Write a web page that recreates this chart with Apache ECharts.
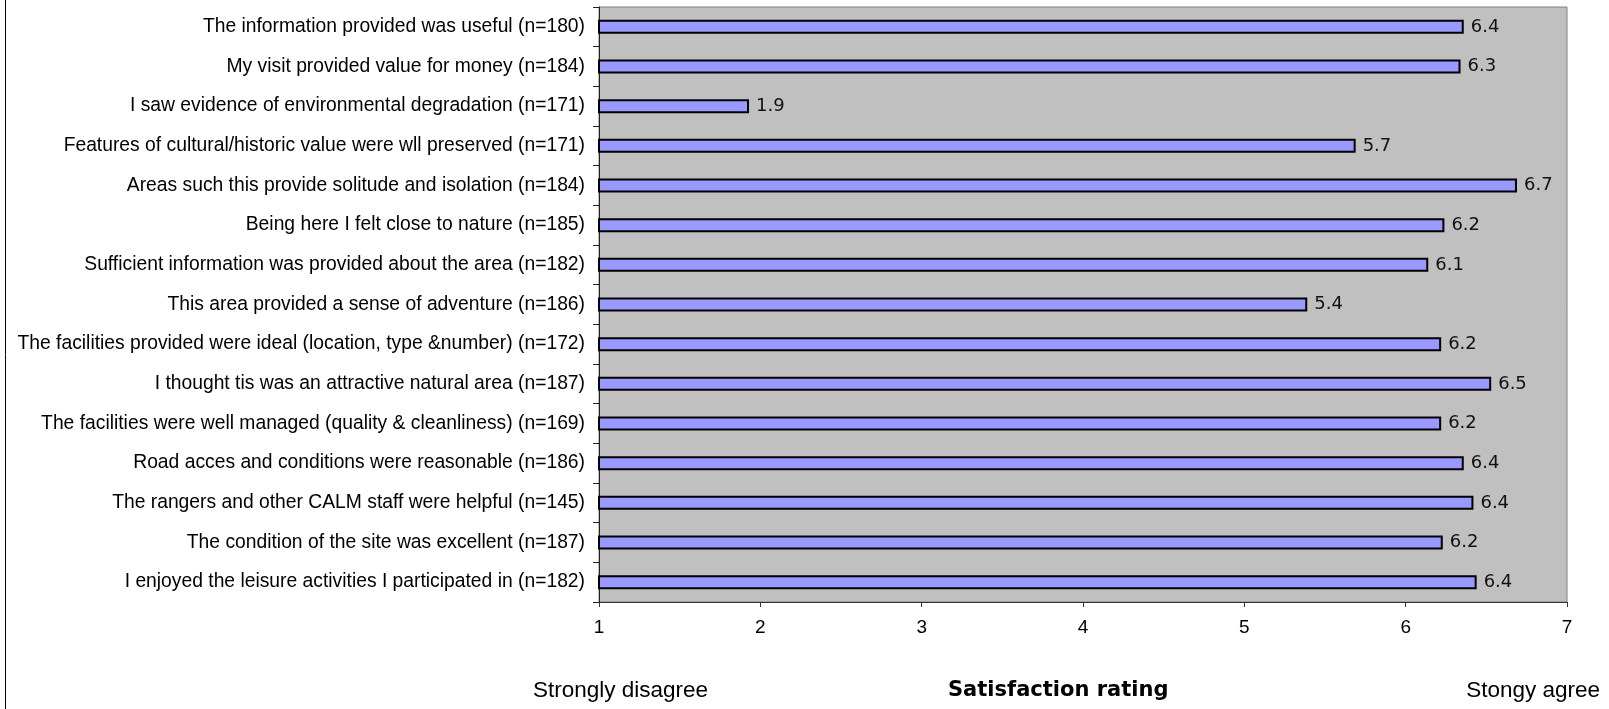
<!DOCTYPE html>
<html>
<head>
<meta charset="utf-8">
<script src="https://cdn.jsdelivr.net/npm/echarts@6/dist/echarts.min.js"></script>
<style>
  html, body { margin: 0; padding: 0; background: #ffffff; }
  #chart { width: 1609px; height: 709px; }
</style>
</head>
<body>
<div id="chart"></div>
<script>
// ---- data (top to bottom as shown) ----
const categories = [
  "The information provided was useful (n=180)",
  "My visit provided value for money (n=184)",
  "I saw evidence of environmental degradation (n=171)",
  "Features of cultural/historic value were wll preserved (n=171)",
  "Areas such this provide solitude and isolation (n=184)",
  "Being here I felt close to nature (n=185)",
  "Sufficient information was provided about the area (n=182)",
  "This area provided a sense of adventure (n=186)",
  "The facilities provided were ideal (location, type &number) (n=172)",
  "I thought tis was an attractive natural area (n=187)",
  "The facilities were well managed (quality & cleanliness) (n=169)",
  "Road acces and conditions were reasonable (n=186)",
  "The rangers and other CALM staff were helpful (n=145)",
  "The condition of the site was excellent (n=187)",
  "I enjoyed the leisure activities I participated in (n=182)"
];
const ratings = [6.36, 6.34, 1.93, 5.69, 6.69, 6.24, 6.14, 5.39, 6.22, 6.53, 6.22, 6.36, 6.42, 6.23, 6.44];
const xTicks = [1, 2, 3, 4, 5, 6, 7];
const leftLabel = "Strongly disagree";
const axisTitle = "Satisfaction rating";
const rightLabel = "Stongy agree";

const chart = echarts.init(document.getElementById('chart'), null, { renderer: 'canvas' });

const option = {
  animation: false,
  backgroundColor: '#ffffff',
  grid: {
    left: 599, top: 7, width: 968, height: 595,
    show: true, backgroundColor: '#C0C0C0', borderColor: '#808080', borderWidth: 1,
    containLabel: false
  },
  xAxis: {
    type: 'value',
    min: xTicks[0],
    max: xTicks[xTicks.length - 1],
    interval: xTicks[1] - xTicks[0],
    splitLine: { show: false },
    axisLine: { show: true, lineStyle: { color: '#333333', width: 1 } },
    axisTick: { show: true, inside: false, length: 5, lineStyle: { color: '#333333' } },
    axisLabel: { margin: 16, color: '#000000', fontFamily: 'Liberation Sans, Arial, sans-serif', fontSize: 19 }
  },
  yAxis: {
    type: 'category',
    inverse: true,
    data: categories,
    axisLine: { show: true, lineStyle: { color: '#222222', width: 1 } },
    axisTick: { show: true, inside: false, length: 6, alignWithLabel: false, lineStyle: { color: '#222222' } },
    axisLabel: { margin: 14, color: '#000000', fontFamily: 'Liberation Sans, Arial, sans-serif', fontSize: 19.3 }
  },
  series: [{
    type: 'bar',
    data: ratings,
    barWidth: 14,
    itemStyle: { color: '#9999FF', borderColor: '#000000', borderWidth: 2 },
    label: {
      show: true, position: 'right', distance: 7,
      color: '#111111', fontFamily: 'DejaVu Sans, Verdana, sans-serif', fontSize: 18,
      formatter: p => p.value.toFixed(1)
    }
  }],
  graphic: [
    { type: 'line', shape: { x1: 5.5, y1: 0, x2: 5.5, y2: 709 }, style: { stroke: '#000000', lineWidth: 1 } },
    { type: 'text', left: 533, top: 679, style: { text: leftLabel, fill: '#000000', font: '22.5px "Liberation Sans", Arial, sans-serif' } },
    { type: 'text', left: 948, top: 680, style: { text: axisTitle, fill: '#000000', font: 'bold 21px "DejaVu Sans", Verdana, sans-serif' } },
    { type: 'text', right: 9, top: 679, style: { text: rightLabel, fill: '#000000', font: '22.5px "Liberation Sans", Arial, sans-serif' } }
  ]
};
chart.setOption(option);
</script>
</body>
</html>
